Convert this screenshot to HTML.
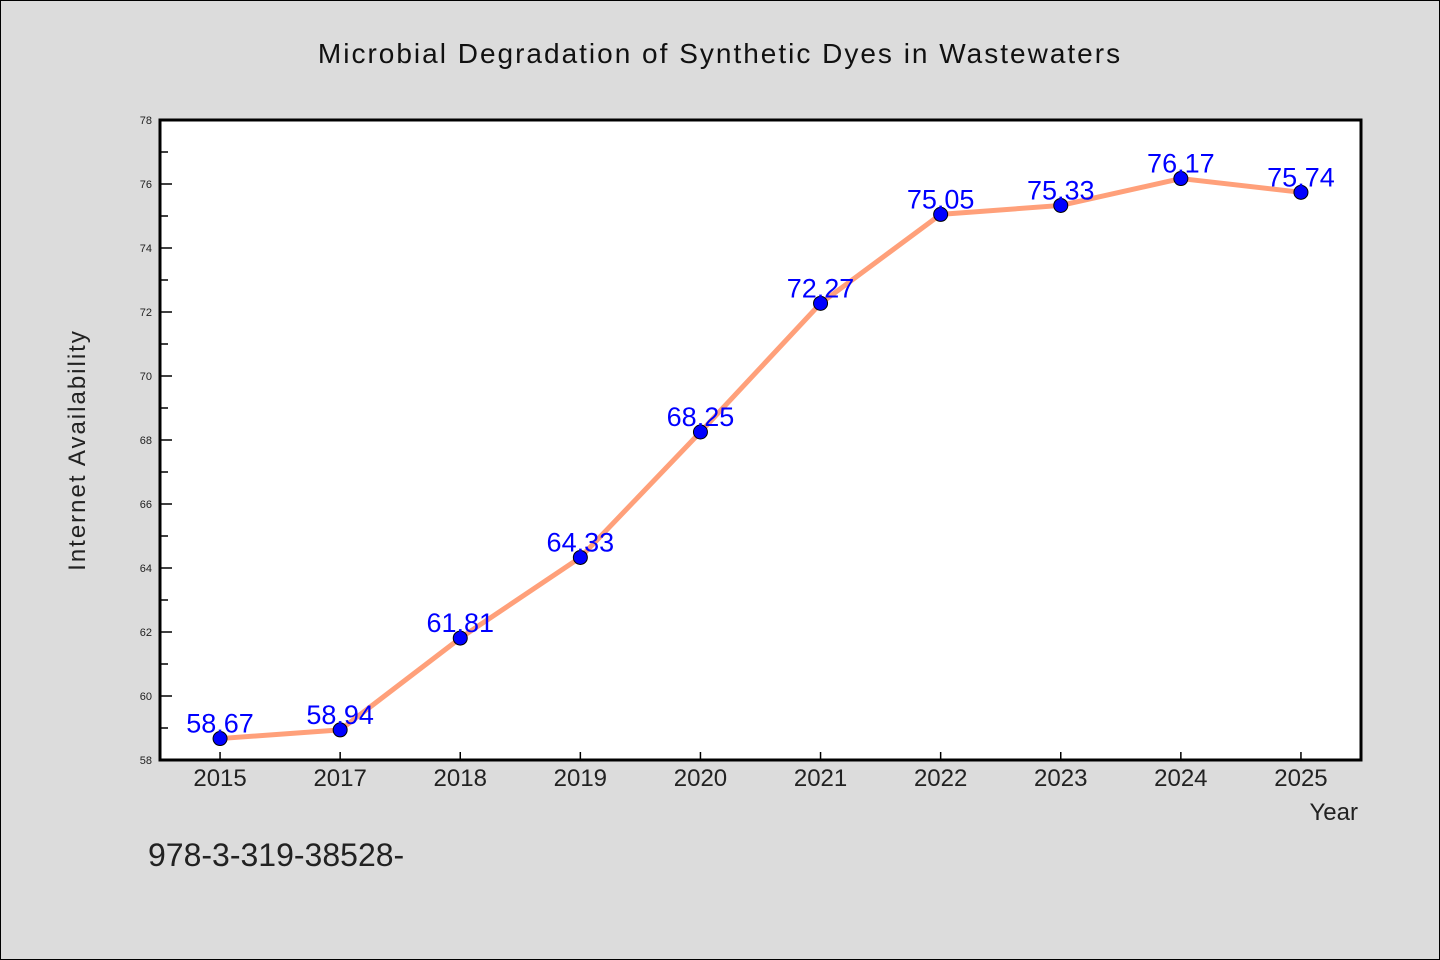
<!DOCTYPE html>
<html><head><meta charset="utf-8"><style>
body{margin:0;background:#dcdcdc}
svg{display:block}
text{font-family:"WenQuanYi Zen Hei","Liberation Sans",sans-serif}
</style></head><body>
<svg width="1440" height="960" viewBox="0 0 1440 960">
<rect x="0.5" y="0.5" width="1439" height="959" fill="#dcdcdc" stroke="#000"/>
<text x="720" y="63" text-anchor="middle" font-size="28" fill="#111" letter-spacing="2">Microbial Degradation of Synthetic Dyes in Wastewaters</text>
<rect x="160" y="120" width="1201" height="640" fill="#fff"/>
<g id="axes"></g>
<g id="series"></g>
<rect x="160" y="120" width="1201" height="640" fill="none" stroke="#000" stroke-width="3"/>
<text x="85" y="450" transform="rotate(-90 85 450)" text-anchor="middle" font-size="24" fill="#222" letter-spacing="2">Internet Availability</text>
<text x="1358" y="820" text-anchor="end" font-size="24" fill="#222">Year</text>
<text x="148" y="866" font-size="32" fill="#222">978-3-319-38528-</text>
</svg>
<script>
const categories=["2015","2017","2018","2019","2020","2021","2022","2023","2024","2025"];
const values=[58.67,58.94,61.81,64.33,68.25,72.27,75.05,75.33,76.17,75.74];
const yTicks=[58,60,62,64,66,68,70,72,74,76,78];
const valueLabels=["58.67","58.94","61.81","64.33","68.25","72.27","75.05","75.33","76.17","75.74"];
const NS="http://www.w3.org/2000/svg";
const X0=160,X1=1361,Y0=760,Y1=120,YMIN=58,YMAX=78;
function xs(i){return X0+(X1-X0)/categories.length*(i+0.5);}
function ys(v){return Y0-(v-YMIN)/(YMAX-YMIN)*(Y0-Y1);}
function mk(t,a,p){const e=document.createElementNS(NS,t);for(const k in a)e.setAttribute(k,a[k]);p.appendChild(e);return e;}
const ax=document.getElementById('axes'),se=document.getElementById('series');
yTicks.forEach((v,i)=>{
 const y=ys(v);
 const t=mk('line',{x1:X0,x2:X0+12,y1:y,y2:y,stroke:'#000','stroke-width':1.5},ax);
 
 
 const l=mk('text',{x:X0-8,y:y+4,'text-anchor':'end','font-size':11,fill:'#222'},ax);
 l.textContent=v;
 
 
 if(i<yTicks.length-1){
  const ym=ys(v+1);
  const m=mk('line',{x1:X0,x2:X0+8,y1:ym,y2:ym,stroke:'#000','stroke-width':1.5},ax);
  
  
 }
});
categories.forEach((c,i)=>{
 const x=xs(i);
 const t=mk('line',{x1:x,x2:x,y1:Y0,y2:Y0-8,stroke:'#000','stroke-width':1.5},ax);
 
 
 const l=mk('text',{x:x,y:Y0+26,'text-anchor':'middle','font-size':24,fill:'#222'},ax);
 l.textContent=c;
 
 
});
const pts=values.map((v,i)=>xs(i)+','+ys(v)).join(' ');
const line=mk('polyline',{points:pts,fill:'none',stroke:'#ffa07a','stroke-width':5,'stroke-linejoin':'round'},se);


values.forEach((v,i)=>{
 const c=mk('circle',{cx:xs(i),cy:ys(v),r:7,fill:'#0000ff',stroke:'#000','stroke-width':1},se);
 
 
 const l=mk('text',{x:xs(i),y:ys(v)-6,'text-anchor':'middle','font-size':27,fill:'#0000ff'},se);
 l.textContent=valueLabels[i];
 
 
});
</script>
</body></html>
